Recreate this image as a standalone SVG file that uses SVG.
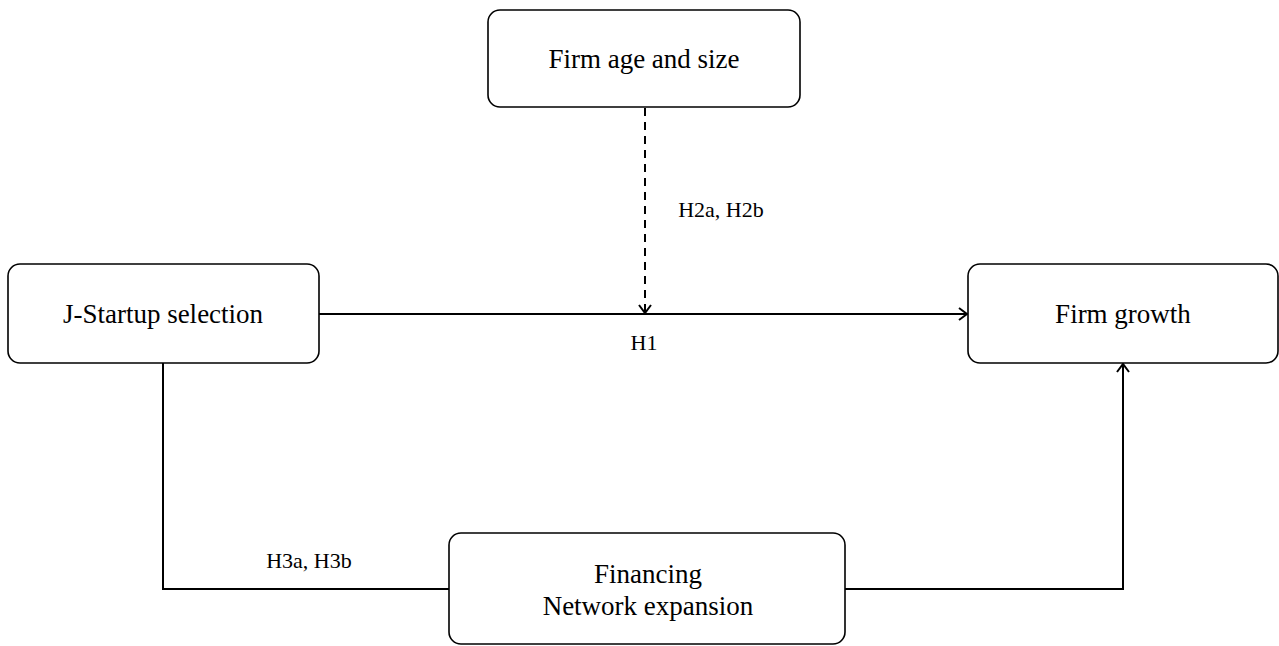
<svg xmlns="http://www.w3.org/2000/svg" width="1279" height="646" viewBox="0 0 1279 646">
<style>
.box{fill:#fff;stroke:#000;stroke-width:1.6}
.t{font-family:"Liberation Serif","Times New Roman",serif;font-size:27px;fill:#000;text-anchor:middle}
.l{font-family:"Liberation Serif","Times New Roman",serif;font-size:22px;fill:#000;text-anchor:middle}
.c{fill:none;stroke:#000;stroke-width:2}
</style>
<defs>
<marker id="ah" markerWidth="14" markerHeight="14" refX="12" refY="7" orient="auto" markerUnits="userSpaceOnUse">
<path d="M4,1 L12,7 L4,13" fill="none" stroke="#000" stroke-width="2"/>
</marker>
</defs>
<rect width="1279" height="646" fill="#fff"/>
<g id="connectors">
<line class="c" x1="319" y1="314" x2="967" y2="314" marker-end="url(#ah)"/>
<line class="c" x1="645" y1="108" x2="645" y2="313" stroke-dasharray="8,6" marker-end="url(#ah)"/>
<polyline class="c" points="163,363 163,589 449,589"/>
<polyline class="c" points="845,589 1123,589 1123,364" marker-end="url(#ah)"/>
<text class="l" x="721" y="217">H2a, H2b</text>
<text class="l" x="644" y="350">H1</text>
<text class="l" x="309" y="568">H3a, H3b</text>
</g>
<g id="node-age">
<rect class="box" x="488" y="10" width="312" height="97" rx="12"/>
<text class="t" x="644" y="68">Firm age and size</text>
</g>
<g id="node-jstartup">
<rect class="box" x="8" y="264" width="311" height="99" rx="12"/>
<text class="t" x="163" y="323">J-Startup selection</text>
</g>
<g id="node-growth">
<rect class="box" x="968" y="264" width="310" height="99" rx="12"/>
<text class="t" x="1123" y="323">Firm growth</text>
</g>
<g id="node-financing">
<rect class="box" x="449" y="533" width="396" height="111" rx="12"/>
<text class="t" x="648" y="583">Financing</text>
<text class="t" x="648" y="615">Network expansion</text>
</g>
</svg>
